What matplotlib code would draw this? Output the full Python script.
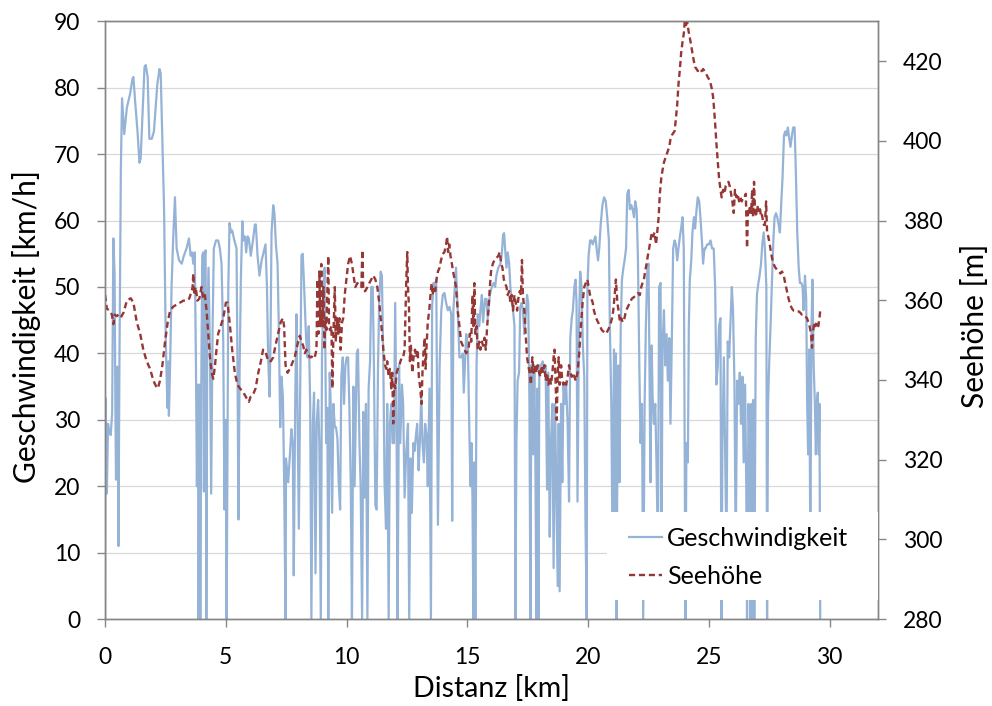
import matplotlib
matplotlib.use("Agg")
import matplotlib.pyplot as plt
from matplotlib.patches import Rectangle

plt.rcParams["font.family"] = ["Lato", "DejaVu Sans"]

# Speed track (distance in km, speed in km/h)
speed_km = [
    0.00, 0.01, 0.07, 0.12, 0.18, 0.23, 0.29, 0.34, 0.39, 0.43,
    0.45, 0.51, 0.55, 0.59, 0.65, 0.70, 0.79, 0.90, 1.03, 1.13,
    1.17, 1.24, 1.34, 1.42, 1.47, 1.56, 1.63, 1.68, 1.76, 1.83,
    1.93, 2.02, 2.09, 2.16, 2.25, 2.30, 2.36, 2.44, 2.51, 2.58,
    2.62, 2.64, 2.69, 2.75, 2.82, 2.89, 2.96, 3.06, 3.17, 3.26,
    3.37, 3.47, 3.54, 3.60, 3.65, 3.71, 3.76, 3.80, 3.84, 3.87,
    3.91, 3.94, 3.98, 4.02, 4.06, 4.09, 4.12, 4.16, 4.19, 4.23,
    4.28, 4.34, 4.39, 4.45, 4.50, 4.59, 4.68, 4.75, 4.82, 4.89,
    4.94, 4.99, 5.03, 5.10, 5.15, 5.21, 5.26, 5.35, 5.44, 5.48,
    5.52, 5.57, 5.62, 5.68, 5.73, 5.79, 5.84, 5.90, 5.95, 6.03,
    6.12, 6.20, 6.24, 6.31, 6.39, 6.48, 6.56, 6.64, 6.70, 6.75,
    6.81, 6.85, 6.89, 6.96, 7.01, 7.07, 7.14, 7.19, 7.25, 7.30,
    7.36, 7.41, 7.47, 7.49, 7.58, 7.66, 7.71, 7.77, 7.81, 7.87,
    7.92, 7.96, 8.02, 8.07, 8.13, 8.18, 8.24, 8.32, 8.38, 8.43,
    8.49, 8.54, 8.60, 8.65, 8.71, 8.76, 8.82, 8.87, 8.93, 8.98,
    9.04, 9.09, 9.15, 9.20, 9.24, 9.30, 9.34, 9.40, 9.45, 9.51,
    9.56, 9.62, 9.67, 9.73, 9.78, 9.84, 9.89, 9.95, 10.00, 10.06,
    10.11, 10.17, 10.22, 10.28, 10.33, 10.42, 10.47, 10.53, 10.58, 10.64,
    10.69, 10.75, 10.80, 10.86, 10.91, 10.97, 11.02, 11.08, 11.13, 11.19,
    11.24, 11.30, 11.35, 11.41, 11.46, 11.52, 11.57, 11.63, 11.68, 11.74,
    11.79, 11.85, 11.90, 11.96, 12.01, 12.07, 12.11, 12.17, 12.22, 12.29,
    12.34, 12.40, 12.47, 12.54, 12.59, 12.65, 12.70, 12.76, 12.81, 12.87,
    12.92, 12.98, 13.03, 13.09, 13.14, 13.20, 13.25, 13.31, 13.36, 13.43,
    13.49, 13.54, 13.60, 13.65, 13.71, 13.78, 13.85, 13.92, 13.98, 14.05,
    14.12, 14.19, 14.26, 14.33, 14.37, 14.42, 14.48, 14.53, 14.60, 14.67,
    14.74, 14.81, 14.85, 14.91, 14.95, 15.02, 15.09, 15.13, 15.17, 15.21,
    15.25, 15.29, 15.33, 15.38, 15.43, 15.49, 15.54, 15.60, 15.65, 15.73,
    15.79, 15.84, 15.93, 16.01, 16.09, 16.15, 16.20, 16.28, 16.37, 16.42,
    16.48, 16.52, 16.56, 16.62, 16.67, 16.73, 16.78, 16.84, 16.89, 16.95,
    16.99, 17.03, 17.08, 17.14, 17.19, 17.25, 17.30, 17.36, 17.41, 17.47,
    17.52, 17.57, 17.61, 17.65, 17.69, 17.73, 17.77, 17.81, 17.86, 17.90,
    17.94, 17.98, 18.05, 18.12, 18.19, 18.24, 18.30, 18.35, 18.41, 18.46,
    18.52, 18.57, 18.63, 18.68, 18.74, 18.78, 18.82, 18.88, 18.93, 18.98,
    19.04, 19.09, 19.15, 19.21, 19.26, 19.32, 19.37, 19.43, 19.48, 19.52,
    19.56, 19.62, 19.67, 19.73, 19.78, 19.84, 19.89, 19.94, 19.97, 20.02,
    20.08, 20.13, 20.19, 20.24, 20.30, 20.35, 20.41, 20.46, 20.52, 20.59,
    20.66, 20.73, 20.79, 20.86, 20.90, 20.96, 21.01, 21.07, 21.11, 21.15,
    21.18, 21.22, 21.26, 21.30, 21.35, 21.40, 21.46, 21.51, 21.57, 21.62,
    21.68, 21.73, 21.79, 21.84, 21.90, 21.95, 22.01, 22.06, 22.12, 22.17,
    22.23, 22.28, 22.34, 22.39, 22.45, 22.50, 22.54, 22.58, 22.63, 22.67,
    22.72, 22.78, 22.83, 22.89, 22.94, 23.00, 23.04, 23.08, 23.14, 23.19,
    23.25, 23.30, 23.36, 23.41, 23.47, 23.52, 23.58, 23.63, 23.69, 23.74,
    23.80, 23.85, 23.91, 23.96, 23.99, 24.03, 24.07, 24.13, 24.17, 24.21,
    24.27, 24.32, 24.38, 24.43, 24.49, 24.54, 24.60, 24.65, 24.71, 24.76,
    24.82, 24.86, 24.93, 25.00, 25.07, 25.13, 25.20, 25.26, 25.31, 25.37,
    25.42, 25.48, 25.52, 25.56, 25.62, 25.67, 25.73, 25.78, 25.84, 25.89,
    25.95, 26.00, 26.06, 26.11, 26.17, 26.22, 26.28, 26.33, 26.39, 26.44,
    26.50, 26.55, 26.58, 26.64, 26.69, 26.72, 26.76, 26.81, 26.84, 26.88,
    26.94, 26.99, 27.05, 27.10, 27.16, 27.21, 27.27, 27.32, 27.38, 27.41,
    27.45, 27.50, 27.56, 27.61, 27.67, 27.72, 27.78, 27.83, 27.89, 27.94,
    28.00, 28.05, 28.11, 28.16, 28.21, 28.27, 28.33, 28.38, 28.44, 28.49,
    28.55, 28.60, 28.66, 28.72, 28.77, 28.83, 28.88, 28.92, 28.98, 29.03,
    29.07, 29.11, 29.16, 29.20, 29.25, 29.29, 29.34, 29.39, 29.43, 29.47,
    29.51, 29.55, 29.58, 29.61,
]
speed_kmh = [
    0, 33.3, 18.9, 29.4, 28, 27.7, 31, 57.3, 52, 29,
    21, 38, 11, 38, 67.6, 78.4, 73, 77, 79, 81.3,
    81.6, 78, 73.4, 68.7, 69.3, 77, 83.1, 83.4, 81.6, 72.3,
    72.3, 73.4, 77, 80.5, 82.8, 82.2, 73.4, 61.7, 41.8, 31.8,
    38.8, 30.6, 38.2, 50, 57.6, 63.5, 55.8, 54, 53.5, 54.7,
    55.8, 57.3, 54.7, 55.2, 53.5, 55.2, 38.2, 20, 35.3, 0,
    35.3, 0, 34.7, 54.7, 55.2, 19.2, 54.7, 55.5, 0, 44,
    52.9, 40.6, 18.9, 44, 55.8, 57, 57, 55.8, 53.5, 41.8,
    16.5, 30, 0, 50, 59.6, 58.2, 58.5, 57, 55.8, 38.2,
    15, 38.2, 51.1, 59.9, 57, 57.6, 55.2, 57.6, 57.3, 54.7,
    57, 59.4, 59.4, 54.7, 51.7, 54, 55.2, 56.4, 50, 39.4,
    33.5, 42.9, 58.2, 62.3, 61.1, 56.4, 53.5, 44.1, 28.9, 36.5,
    33.5, 21.2, 0, 24.2, 20.6, 25.3, 28.6, 26.5, 6.6, 32.4,
    45.9, 33.5, 13.6, 33, 54.7, 55, 50, 42.3, 39.4, 44.1,
    32.4, 0, 29.4, 34.1, 6.9, 29.4, 33, 26.5, 0, 40,
    50, 52.9, 26.5, 31.8, 0, 37.1, 32.4, 16, 32.4, 28.9,
    28.9, 27.1, 20.6, 16.5, 36.5, 39.4, 32.4, 38.2, 39.4, 39.4,
    32.4, 20.6, 0, 35, 20, 40, 40.6, 26.5, 20, 0,
    31.2, 18.3, 32.4, 0, 34.7, 38.8, 50, 50, 38.2, 17.1,
    16.5, 38.2, 48.2, 52.3, 51.7, 38.2, 20.6, 13.6, 32.4, 0,
    29.4, 32.4, 26.5, 26.5, 47.6, 26.5, 0, 38.2, 26.5, 35.3,
    32.4, 18.3, 25.3, 29.4, 0, 24.2, 16, 26.5, 25.3, 27.7,
    29.4, 22.4, 26.5, 33.5, 26.5, 23.6, 29.4, 27.7, 20, 34.7,
    0, 47, 50.6, 50, 51.1, 14.2, 38.2, 46.5, 48.8, 49.1,
    47.6, 46.5, 47, 45.9, 14.8, 46.5, 50, 52.9, 46.5, 39.4,
    39.4, 40, 34.1, 39.4, 42.9, 41.2, 26.5, 20, 26.5, 18.3,
    0, 23.6, 0, 38.2, 45.9, 44.1, 46.5, 48.8, 44.7, 48.2,
    48.2, 45.3, 48.8, 50, 50.6, 50, 51.7, 52.9, 53.5, 54.7,
    57.9, 58.1, 55.8, 52.9, 55.2, 53.5, 50, 47.6, 46.5, 44.1,
    0, 26.5, 35.9, 37.1, 47, 47.6, 46.5, 42.9, 45.3, 48.8,
    47.6, 32.4, 0, 38.2, 32.4, 24.8, 38.2, 26.5, 0, 34.7,
    0, 38.2, 38.2, 38.8, 37.1, 38.2, 19.5, 37.1, 12.4, 26.5,
    32.4, 7.7, 32.4, 19.5, 5, 29.4, 4.2, 32.4, 20.6, 35.3,
    32.4, 35.3, 29.4, 17.7, 42.3, 45.3, 46.5, 50, 51.1, 47.6,
    17.7, 44.1, 52.3, 50, 41.2, 36.5, 14.8, 0, 50, 54.7,
    57, 57, 56.4, 57, 57.6, 55.8, 54, 55.8, 59.4, 62.3,
    63.5, 62.9, 60.5, 57, 44.1, 32.4, 10, 40.6, 10, 40,
    0, 32.4, 38.2, 20.6, 44.1, 51.1, 52.9, 54, 55.8, 64,
    64.6, 61.7, 62.3, 61.7, 60.5, 62.9, 61.7, 54.7, 38.2, 26.5,
    32.4, 0, 32.4, 44.1, 52.3, 53.5, 38.2, 20.6, 41.2, 33.5,
    29.4, 32.4, 23.6, 10, 50, 50.6, 10, 41.2, 46.5, 38.2,
    42.9, 35.9, 42.3, 29.4, 42.9, 55.8, 57, 56.4, 54, 55.8,
    57.6, 58.8, 60.5, 55.8, 31.8, 0, 26.5, 23.6, 44.1, 51.1,
    54, 58.2, 60.5, 58.8, 61.7, 63.5, 62.9, 60.5, 57, 53.5,
    55.8, 55.8, 56.4, 56.4, 57, 55.8, 55.8, 50, 35.3, 38.2,
    44.1, 45.3, 0, 26.5, 39.4, 26.5, 10, 41.8, 39.4, 44.1,
    50, 46.5, 35.3, 10, 35.9, 32.4, 37.1, 29.4, 36.5, 23.6,
    35.3, 19.5, 0, 32.4, 26.5, 0, 32.4, 0, 33, 0,
    42.3, 48.8, 50.6, 51.7, 53.5, 56.4, 58.2, 55.8, 50, 0,
    32.4, 38.8, 44.7, 50.6, 57, 60.5, 61.1, 60.5, 59.4, 58.2,
    62.9, 66.4, 72.8, 73.4, 72.8, 74, 72.3, 71.1, 72.8, 74,
    74, 67.6, 58.2, 52.9, 50.6, 50.6, 50, 46.5, 51.7, 48.2,
    32.4, 24.8, 40.6, 10, 44.1, 51.1, 38.2, 32.4, 24.8, 32.4,
    34.1, 24.8, 32.4, 0,
]

# Elevation track (distance in km, height in m)
elev_km = [
    0.00, 0.07, 0.18, 0.28, 0.34, 0.40, 0.48, 0.55, 0.65, 0.76,
    0.90, 1.06, 1.17, 1.31, 1.45, 1.58, 1.72, 1.86, 2.00, 2.11,
    2.18, 2.27, 2.37, 2.48, 2.59, 2.69, 2.82, 2.96, 3.10, 3.24,
    3.37, 3.48, 3.58, 3.62, 3.65, 3.69, 3.75, 3.82, 3.90, 3.99,
    4.06, 4.13, 4.20, 4.27, 4.34, 4.41, 4.48, 4.55, 4.61, 4.68,
    4.78, 4.89, 5.00, 5.07, 5.17, 5.26, 5.37, 5.48, 5.58, 5.72,
    5.86, 5.95, 6.03, 6.13, 6.23, 6.34, 6.45, 6.54, 6.64, 6.75,
    6.86, 6.96, 7.05, 7.16, 7.27, 7.36, 7.41, 7.47, 7.55, 7.65,
    7.71, 7.78, 7.85, 7.92, 7.99, 8.06, 8.13, 8.20, 8.27, 8.33,
    8.40, 8.47, 8.54, 8.61, 8.68, 8.75, 8.79, 8.83, 8.87, 8.91,
    8.95, 8.99, 9.04, 9.08, 9.12, 9.16, 9.20, 9.24, 9.27, 9.31,
    9.37, 9.41, 9.45, 9.51, 9.55, 9.60, 9.66, 9.70, 9.75, 9.81,
    9.86, 9.92, 9.99, 10.06, 10.14, 10.22, 10.31, 10.36, 10.44, 10.53,
    10.61, 10.65, 10.69, 10.77, 10.86, 10.94, 11.02, 11.10, 11.19, 11.27,
    11.35, 11.44, 11.52, 11.59, 11.64, 11.68, 11.74, 11.79, 11.85, 11.89,
    11.93, 11.97, 12.01, 12.07, 12.12, 12.18, 12.23, 12.29, 12.34, 12.40,
    12.44, 12.47, 12.51, 12.54, 12.58, 12.62, 12.66, 12.72, 12.77, 12.83,
    12.88, 12.94, 12.99, 13.05, 13.10, 13.14, 13.18, 13.23, 13.27, 13.31,
    13.36, 13.42, 13.47, 13.52, 13.56, 13.61, 13.67, 13.72, 13.78, 13.85,
    13.91, 13.98, 14.05, 14.12, 14.16, 14.20, 14.25, 14.30, 14.36, 14.41,
    14.47, 14.53, 14.60, 14.67, 14.74, 14.81, 14.88, 14.95, 15.05, 15.10,
    15.16, 15.21, 15.25, 15.29, 15.33, 15.38, 15.43, 15.49, 15.54, 15.60,
    15.65, 15.71, 15.76, 15.82, 15.87, 15.93, 15.98, 16.05, 16.12, 16.20,
    16.28, 16.34, 16.40, 16.45, 16.51, 16.56, 16.62, 16.67, 16.73, 16.78,
    16.84, 16.89, 16.95, 17.00, 17.06, 17.11, 17.17, 17.22, 17.26, 17.30,
    17.36, 17.41, 17.47, 17.52, 17.58, 17.63, 17.69, 17.74, 17.80, 17.86,
    17.91, 17.97, 18.02, 18.08, 18.13, 18.19, 18.24, 18.30, 18.35, 18.41,
    18.46, 18.52, 18.57, 18.61, 18.65, 18.70, 18.74, 18.78, 18.82, 18.88,
    18.93, 18.98, 19.04, 19.09, 19.15, 19.21, 19.26, 19.32, 19.37, 19.43,
    19.49, 19.56, 19.63, 19.70, 19.77, 19.84, 19.90, 19.97, 20.02, 20.08,
    20.13, 20.19, 20.24, 20.33, 20.41, 20.49, 20.57, 20.66, 20.74, 20.82,
    20.90, 20.99, 21.04, 21.10, 21.15, 21.21, 21.26, 21.32, 21.37, 21.43,
    21.48, 21.57, 21.65, 21.73, 21.81, 21.90, 21.98, 22.06, 22.14, 22.20,
    22.25, 22.31, 22.36, 22.42, 22.47, 22.53, 22.58, 22.64, 22.69, 22.75,
    22.81, 22.86, 22.92, 22.97, 23.03, 23.08, 23.14, 23.19, 23.25, 23.30,
    23.36, 23.41, 23.47, 23.52, 23.58, 23.63, 23.69, 23.74, 23.80, 23.85,
    23.91, 23.96, 24.00, 24.04, 24.10, 24.15, 24.21, 24.27, 24.32, 24.38,
    24.43, 24.49, 24.54, 24.60, 24.65, 24.71, 24.76, 24.82, 24.87, 24.95,
    25.04, 25.12, 25.17, 25.20, 25.26, 25.31, 25.37, 25.42, 25.48, 25.53,
    25.59, 25.64, 25.70, 25.75, 25.81, 25.86, 25.92, 25.97, 26.03, 26.08,
    26.14, 26.19, 26.25, 26.31, 26.36, 26.42, 26.47, 26.53, 26.55, 26.58,
    26.62, 26.66, 26.70, 26.75, 26.79, 26.83, 26.87, 26.91, 26.95, 27.00,
    27.04, 27.08, 27.12, 27.16, 27.20, 27.24, 27.28, 27.32, 27.37, 27.41,
    27.46, 27.52, 27.57, 27.63, 27.68, 27.75, 27.82, 27.89, 27.96, 28.03,
    28.10, 28.16, 28.23, 28.30, 28.37, 28.44, 28.51, 28.58, 28.65, 28.72,
    28.78, 28.85, 28.92, 28.99, 29.06, 29.12, 29.17, 29.23, 29.27, 29.31,
    29.36, 29.42, 29.47, 29.53, 29.58, 29.61,
]
elev_m = [
    361.3, 357.9, 357.4, 356.4, 354, 356.4, 356, 356.4, 355.7, 356.9,
    359.9, 360.5, 359.4, 354.5, 351.6, 347.6, 344.7, 342.8, 339.8, 338.4,
    337.9, 339.8, 343.7, 349.6, 354.5, 357.4, 358.4, 358.9, 359.4, 359.9,
    359.9, 360.4, 362.3, 363.3, 366.7, 361.3, 363.3, 359.9, 360.4, 363.3,
    360.4, 361.3, 357.4, 351.6, 345.7, 341.8, 340.3, 343.7, 347.6, 351.6,
    353.5, 355.5, 359.4, 359.4, 353.5, 347.6, 341.8, 338.8, 337.9, 336.9,
    335.4, 334.5, 335.9, 336.4, 337.9, 341.8, 344.7, 347.6, 347.1, 344.7,
    344.7, 345.7, 348.6, 351.6, 354.5, 355.5, 353.5, 343.7, 341.8, 342.8,
    343.7, 344.7, 345.7, 347.6, 349.6, 351.1, 349.6, 348.6, 346.7, 347.6,
    346.7, 345.7, 345.7, 346.2, 345.7, 347.6, 365.2, 351.6, 367.2, 353.5,
    369.1, 353.5, 363.3, 347.6, 355.5, 352.5, 361.3, 371.1, 353.5, 352.5,
    353.5, 337.9, 350.6, 363.3, 349.6, 355.5, 351.6, 355.5, 347.6, 354.5,
    355.5, 361.3, 365.2, 369.1, 371.1, 369.1, 365.2, 363.3, 364.3, 363.8,
    363.3, 372.6, 362.3, 362.3, 363.3, 364.3, 365.2, 366.2, 365.2, 363.3,
    359.4, 353.5, 347.6, 343.7, 342.8, 344.7, 340.8, 342.8, 337.9, 341.8,
    329.1, 338.8, 337.9, 341.8, 342.8, 343.7, 344.7, 345.7, 345.7, 347.6,
    357.4, 365.2, 372.1, 363.3, 358.4, 344.7, 348.6, 341.8, 345.7, 347.6,
    345.7, 347.6, 340.8, 337.9, 334, 341.8, 346.7, 350.6, 342.8, 348.6,
    354.5, 357.4, 361.3, 364.3, 361.3, 363.3, 362.3, 365.2, 367.2, 368.2,
    370.1, 371.6, 372.1, 374, 376, 372.1, 374, 371.1, 369.1, 367.2,
    365.2, 363.3, 357.4, 353.5, 349.6, 348.6, 347.6, 346.7, 347.6, 351.6,
    349.6, 361.3, 353.5, 364.3, 351.6, 353.5, 347.6, 349.6, 347.6, 349.6,
    348.6, 350.6, 347.6, 353.5, 357.4, 363.3, 367.2, 369.1, 370.1, 370.6,
    371.1, 372.1, 369.1, 368.2, 365.2, 364.3, 363.3, 361.3, 362.3, 359.4,
    361.3, 357.4, 361.3, 359.4, 357.4, 360.4, 362.3, 361.3, 370.1, 361.3,
    357.4, 351.6, 345.7, 343.7, 341.8, 338.8, 345.7, 341.8, 343.7, 341.8,
    343.7, 341.8, 340.8, 343.7, 341.8, 343.7, 339.8, 341.8, 338.8, 340.8,
    338.8, 341.8, 345.7, 347.6, 339.8, 330, 341.8, 345.7, 338.8, 343.7,
    339.8, 338.8, 339.8, 338.8, 340.8, 343.7, 341.8, 340.8, 341.8, 340.8,
    339.8, 341.8, 346.7, 353.5, 359.4, 363.3, 364.3, 365.2, 363.3, 361.3,
    360.4, 359.4, 357.4, 355.5, 354.5, 353.5, 352.5, 352, 351.6, 352.5,
    353.5, 355.5, 357.4, 361.3, 365.2, 359.4, 357.4, 354.5, 355.5, 354.5,
    354.8, 357.4, 358.4, 359.4, 360.4, 360.8, 361.3, 361.8, 361.3, 363.3,
    364.3, 365.2, 367.2, 369.1, 371.1, 373.1, 375, 377, 376, 377,
    374, 377, 380.9, 386.7, 390.7, 392.6, 394.6, 395.5, 396.5, 397.5,
    398.5, 400.4, 401.4, 401.9, 402.4, 405.3, 409.2, 414.1, 418, 421.9,
    424.9, 426.8, 429.8, 428.8, 429.8, 427.8, 425.8, 423.9, 421.9, 419.9,
    418.5, 418, 417.5, 418, 417.5, 417.5, 418, 417.5, 417, 416,
    415.1, 413.1, 411.2, 409.2, 404.3, 399.5, 394.6, 390.7, 387.7, 385.8,
    387.7, 386.7, 388.7, 389.2, 389.7, 388.7, 386.7, 384.8, 381.9, 387.7,
    385.8, 386.7, 384.8, 385.8, 384.8, 385.8, 385.8, 386.7, 380.9, 373.1,
    382.8, 381.9, 383.8, 381.9, 387.7, 380.9, 389.7, 382.8, 380.9, 383.8,
    382.8, 381.9, 382.8, 380.9, 381.4, 379.9, 378.9, 378.9, 384.8, 377,
    376, 374, 372.1, 370.1, 369.1, 368.2, 367.7, 367.2, 366.7, 367.2,
    366.2, 364.3, 362.3, 360.4, 358.9, 357.9, 357.4, 357.4, 357.2, 357.2,
    356.9, 356.4, 356.4, 356, 355.5, 354.5, 353.5, 351.6, 348.1, 351.6,
    354.5, 353.5, 354.5, 353.5, 355.5, 357.4,
]

x_ticks = [0, 5, 10, 15, 20, 25, 30]
speed_ticks = [0, 10, 20, 30, 40, 50, 60, 70, 80, 90]
elev_ticks = [280, 300, 320, 340, 360, 380, 400, 420]

blue = "#95B3D7"
red = "#953735"
axis_grey = "#868686"

fig = plt.figure(figsize=(9.92, 7.06), dpi=100)
ax = fig.add_axes([0.106, 0.123, 0.779, 0.847])
ax2 = ax.twinx()

line_speed, = ax.plot(speed_km, speed_kmh, color=blue, lw=1.6,
                      label="Geschwindigkeit")
line_elev, = ax2.plot(elev_km, elev_m, color=red, lw=1.7, dashes=(2.6, 1.6),
                      label="Seehöhe")

ax.set_xlim(0, 32)
ax.set_ylim(0, 90)
ax2.set_ylim(280, 430)
ax.set_xticks(x_ticks)
ax.set_yticks(speed_ticks)
ax2.set_yticks(elev_ticks)

ax.grid(axis="y", color="#D9D9D9", lw=0.9)
ax.set_axisbelow(True)

for a in (ax, ax2):
    for s in a.spines.values():
        s.set_color(axis_grey)
        s.set_linewidth(1.0)
    a.tick_params(direction="out", length=6, width=1.0, color=axis_grey,
                  labelsize=16.5, labelcolor="black", pad=12)
ax.tick_params(axis="x", pad=14)

ax.set_xlabel("Distanz [km]", fontsize=20.5)
ax.xaxis.set_label_coords(0.5, -0.093)
ax.set_ylabel("Geschwindigkeit [km/h]", fontsize=21.5)
ax.yaxis.set_label_coords(-0.083, 0.49)
ax2.set_ylabel("Seehöhe [m]", fontsize=21.5)
ax2.yaxis.set_label_coords(1.108, 0.49)

# white box behind the legend hides the lines below it
box = Rectangle((0.649, 0.032), 0.351, 0.147, transform=ax2.transAxes,
                facecolor="white", edgecolor="none", zorder=5)
ax2.add_patch(box)
leg = ax2.legend([line_speed, line_elev], ["Geschwindigkeit", "Seehöhe"],
                 loc="center left", bbox_to_anchor=(0.662, 0.103),
                 frameon=False, fontsize=18, borderpad=0, handlelength=1.3,
                 handletextpad=0.2, labelspacing=0.6)
leg.set_zorder(6)

fig.savefig("out.png", dpi=100)
